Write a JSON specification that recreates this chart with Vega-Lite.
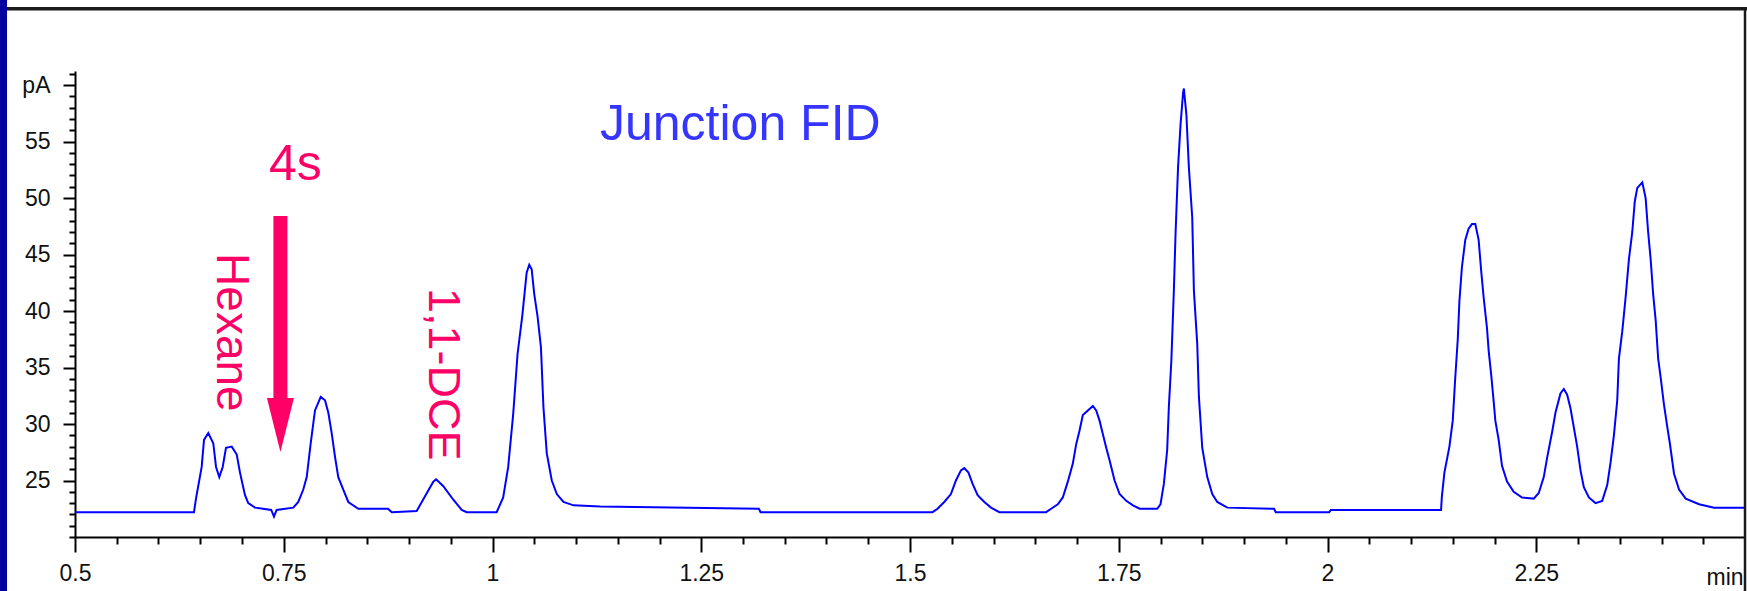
{
  "$schema": "https://vega.github.io/schema/vega-lite/v6.json",
  "width": 1670,
  "height": 466,
  "autosize": {"type": "none"},
  "padding": {"left": 75, "top": 71, "right": 2, "bottom": 54},
  "background": "white",
  "config": {"view": {"stroke": null}, "font": "Liberation Sans"},
  "datasets": {
    "trace": [
      {"t": 0.5, "v": 22.2}, {"t": 0.6425, "v": 22.2}, {"t": 0.6449, "v": 23.4}, {"t": 0.6517, "v": 26.2},
      {"t": 0.6545, "v": 28.6}, {"t": 0.6596, "v": 29.2}, {"t": 0.6656, "v": 28.3}, {"t": 0.6689, "v": 26.2},
      {"t": 0.6728, "v": 25.3}, {"t": 0.6769, "v": 26.2}, {"t": 0.6808, "v": 27.9}, {"t": 0.6877, "v": 28.0},
      {"t": 0.6937, "v": 27.3}, {"t": 0.6976, "v": 25.7}, {"t": 0.7036, "v": 23.7}, {"t": 0.7075, "v": 23.0},
      {"t": 0.7156, "v": 22.6}, {"t": 0.7251, "v": 22.5}, {"t": 0.735, "v": 22.4}, {"t": 0.7383, "v": 21.8},
      {"t": 0.7415, "v": 22.4}, {"t": 0.7614, "v": 22.6}, {"t": 0.7674, "v": 23.1}, {"t": 0.7734, "v": 24.2},
      {"t": 0.7775, "v": 25.3}, {"t": 0.7823, "v": 28.3}, {"t": 0.7874, "v": 31.2}, {"t": 0.7943, "v": 32.4},
      {"t": 0.7994, "v": 32.1}, {"t": 0.8034, "v": 31.0}, {"t": 0.8074, "v": 29.2}, {"t": 0.8114, "v": 27.1},
      {"t": 0.8153, "v": 25.3}, {"t": 0.8213, "v": 24.2}, {"t": 0.8273, "v": 23.1}, {"t": 0.8393, "v": 22.5},
      {"t": 0.8749, "v": 22.5}, {"t": 0.8793, "v": 22.2}, {"t": 0.9092, "v": 22.3}, {"t": 0.9192, "v": 23.6},
      {"t": 0.9291, "v": 24.9}, {"t": 0.9325, "v": 25.1}, {"t": 0.9411, "v": 24.5}, {"t": 0.9531, "v": 23.3},
      {"t": 0.9631, "v": 22.4}, {"t": 0.9691, "v": 22.2},
      {"t": 1.005, "v": 22.2}, {"t": 1.0128, "v": 23.5}, {"t": 1.0188, "v": 26.2}, {"t": 1.0248, "v": 30.9},
      {"t": 1.03, "v": 36.2}, {"t": 1.0357, "v": 39.6}, {"t": 1.0409, "v": 43.4}, {"t": 1.044, "v": 44.1},
      {"t": 1.0469, "v": 43.7}, {"t": 1.05, "v": 41.5}, {"t": 1.054, "v": 39.5}, {"t": 1.058, "v": 36.8},
      {"t": 1.061, "v": 31.5}, {"t": 1.065, "v": 27.4}, {"t": 1.071, "v": 25.0}, {"t": 1.077, "v": 23.8},
      {"t": 1.085, "v": 23.1}, {"t": 1.097, "v": 22.8}, {"t": 1.129, "v": 22.7}, {"t": 1.319, "v": 22.5},
      {"t": 1.321, "v": 22.2},
      {"t": 1.527, "v": 22.2}, {"t": 1.533, "v": 22.5}, {"t": 1.541, "v": 23.1}, {"t": 1.549, "v": 23.8},
      {"t": 1.555, "v": 25.0}, {"t": 1.561, "v": 25.9}, {"t": 1.565, "v": 26.1}, {"t": 1.57, "v": 25.7},
      {"t": 1.575, "v": 24.7}, {"t": 1.581, "v": 23.7}, {"t": 1.589, "v": 23.1}, {"t": 1.597, "v": 22.6},
      {"t": 1.607, "v": 22.2}, {"t": 1.663, "v": 22.2},
      {"t": 1.669, "v": 22.5}, {"t": 1.677, "v": 22.9}, {"t": 1.683, "v": 23.5}, {"t": 1.689, "v": 24.9},
      {"t": 1.695, "v": 26.5}, {"t": 1.699, "v": 28.2}, {"t": 1.703, "v": 29.4}, {"t": 1.707, "v": 30.8},
      {"t": 1.713, "v": 31.2}, {"t": 1.719, "v": 31.6}, {"t": 1.723, "v": 31.2}, {"t": 1.727, "v": 30.3},
      {"t": 1.731, "v": 29.1}, {"t": 1.735, "v": 27.9}, {"t": 1.739, "v": 26.8}, {"t": 1.745, "v": 25.0},
      {"t": 1.751, "v": 23.8}, {"t": 1.759, "v": 23.2}, {"t": 1.767, "v": 22.8}, {"t": 1.775, "v": 22.5},
      {"t": 1.796, "v": 22.5},
      {"t": 1.8, "v": 22.9}, {"t": 1.804, "v": 24.7}, {"t": 1.808, "v": 27.7}, {"t": 1.81, "v": 31.5},
      {"t": 1.813, "v": 35.6}, {"t": 1.816, "v": 41.8}, {"t": 1.818, "v": 46.8}, {"t": 1.821, "v": 52.7},
      {"t": 1.824, "v": 56.5}, {"t": 1.827, "v": 59.3}, {"t": 1.828, "v": 59.7}, {"t": 1.831, "v": 57.4},
      {"t": 1.834, "v": 52.7}, {"t": 1.838, "v": 48.3}, {"t": 1.84, "v": 41.8}, {"t": 1.844, "v": 37.1},
      {"t": 1.846, "v": 32.4}, {"t": 1.85, "v": 27.9}, {"t": 1.856, "v": 25.3}, {"t": 1.862, "v": 23.8},
      {"t": 1.868, "v": 23.1}, {"t": 1.88, "v": 22.6}, {"t": 1.936, "v": 22.5}, {"t": 1.938, "v": 22.2},
      {"t": 2.002, "v": 22.2}, {"t": 2.004, "v": 22.4}, {"t": 2.136, "v": 22.4},
      {"t": 2.137, "v": 23.6}, {"t": 2.14, "v": 25.7}, {"t": 2.146, "v": 28.0}, {"t": 2.15, "v": 30.3},
      {"t": 2.153, "v": 34.1}, {"t": 2.156, "v": 37.5}, {"t": 2.158, "v": 40.9}, {"t": 2.161, "v": 43.9},
      {"t": 2.165, "v": 46.3}, {"t": 2.169, "v": 47.3}, {"t": 2.173, "v": 47.7}, {"t": 2.177, "v": 47.7},
      {"t": 2.181, "v": 46.3}, {"t": 2.184, "v": 43.6}, {"t": 2.187, "v": 41.2}, {"t": 2.191, "v": 38.5},
      {"t": 2.193, "v": 36.5}, {"t": 2.196, "v": 34.4}, {"t": 2.199, "v": 32.0}, {"t": 2.201, "v": 30.3},
      {"t": 2.205, "v": 28.6}, {"t": 2.209, "v": 26.3}, {"t": 2.215, "v": 24.9}, {"t": 2.223, "v": 24.0},
      {"t": 2.233, "v": 23.5}, {"t": 2.247, "v": 23.4}, {"t": 2.253, "v": 23.9}, {"t": 2.259, "v": 25.3},
      {"t": 2.263, "v": 27.0}, {"t": 2.269, "v": 29.3}, {"t": 2.273, "v": 31.0}, {"t": 2.279, "v": 32.7},
      {"t": 2.283, "v": 33.1}, {"t": 2.287, "v": 32.6}, {"t": 2.291, "v": 31.4}, {"t": 2.295, "v": 29.7},
      {"t": 2.299, "v": 28.0}, {"t": 2.303, "v": 25.9}, {"t": 2.307, "v": 24.4}, {"t": 2.313, "v": 23.5},
      {"t": 2.321, "v": 23.0}, {"t": 2.329, "v": 23.2}, {"t": 2.335, "v": 24.6}, {"t": 2.339, "v": 26.6},
      {"t": 2.343, "v": 29.0}, {"t": 2.347, "v": 32.1}, {"t": 2.349, "v": 35.8}, {"t": 2.353, "v": 38.2},
      {"t": 2.357, "v": 41.2}, {"t": 2.361, "v": 44.6}, {"t": 2.365, "v": 47.0}, {"t": 2.368, "v": 49.7},
      {"t": 2.371, "v": 50.9}, {"t": 2.377, "v": 51.4}, {"t": 2.381, "v": 50.0}, {"t": 2.384, "v": 47.0},
      {"t": 2.387, "v": 44.6}, {"t": 2.39, "v": 41.5}, {"t": 2.393, "v": 39.2}, {"t": 2.396, "v": 35.8},
      {"t": 2.399, "v": 34.1}, {"t": 2.403, "v": 31.7}, {"t": 2.407, "v": 29.7}, {"t": 2.41, "v": 28.3},
      {"t": 2.415, "v": 25.6}, {"t": 2.421, "v": 24.2}, {"t": 2.429, "v": 23.4}, {"t": 2.445, "v": 22.9},
      {"t": 2.463, "v": 22.6}, {"t": 2.5, "v": 22.6}
    ]
  },
  "encoding": {
    "x": {
      "field": "t",
      "type": "quantitative",
      "scale": {"domain": [0.5, 2.5], "nice": false, "zero": false},
      "axis": {
        "title": null,
        "grid": false,
        "domainColor": "#000000",
        "domainWidth": 2,
        "tickColor": "#000000",
        "tickWidth": 2,
        "tickSize": {"condition": {"test": "round(datum.value * 20) % 5 == 0", "value": 15}, "value": 7},
        "values": [0.5, 0.55, 0.6, 0.65, 0.7, 0.75, 0.8, 0.85, 0.9, 0.95, 1, 1.05, 1.1, 1.15, 1.2, 1.25, 1.3, 1.35, 1.4, 1.45, 1.5, 1.55, 1.6, 1.65, 1.7, 1.75, 1.8, 1.85, 1.9, 1.95, 2, 2.05, 2.1, 2.15, 2.2, 2.25, 2.3, 2.35, 2.4, 2.45],
        "labelExpr": "round(datum.value * 20) % 5 == 0 && datum.value < 2.4 ? format(datum.value, '.2~f') : ''",
        "labelFont": "Liberation Sans",
        "labelFontSize": 23,
        "labelColor": "#111111",
        "labelPadding": 10,
        "labelOverlap": false,
        "labelFlush": false,
        "labelBound": false
      }
    },
    "y": {
      "field": "v",
      "type": "quantitative",
      "scale": {"domain": [20, 61.25], "nice": false, "zero": false},
      "axis": {
        "title": null,
        "grid": false,
        "domainColor": "#000000",
        "domainWidth": 2,
        "tickColor": "#000000",
        "tickWidth": 2,
        "tickSize": {"condition": {"test": "datum.value % 5 == 0 && datum.value >= 25", "value": 12}, "value": 6},
        "values": [20, 21, 22, 23, 24, 25, 26, 27, 28, 29, 30, 31, 32, 33, 34, 35, 36, 37, 38, 39, 40, 41, 42, 43, 44, 45, 46, 47, 48, 49, 50, 51, 52, 53, 54, 55, 56, 57, 58, 59, 60, 61],
        "labelExpr": "datum.value == 60 ? 'pA' : (datum.value % 5 == 0 && datum.value >= 25 ? datum.label : '')",
        "labelFont": "Liberation Sans",
        "labelFontSize": 23,
        "labelColor": "#111111",
        "labelPadding": 13,
        "labelOverlap": false,
        "labelBound": false
      }
    }
  },
  "layer": [
    {
      "data": {"name": "trace"},
      "mark": {"type": "line", "color": "#0000ff", "strokeWidth": 2}
    },
    {
      "data": {"values": [{"label": "Junction FID", "t": 1.1287, "v": 55.13}]},
      "mark": {"type": "text", "align": "left", "baseline": "alphabetic", "fontSize": 50, "font": "Liberation Sans", "color": "#3535ff"},
      "encoding": {"text": {"field": "label"}}
    },
    {
      "data": {"values": [{"label": "4s", "t": 0.764, "v": 51.6}]},
      "mark": {"type": "text", "align": "center", "baseline": "alphabetic", "fontSize": 50, "font": "Liberation Sans", "color": "#ff0066"},
      "encoding": {"text": {"field": "label"}}
    },
    {
      "data": {"values": [{"label": "Hexane", "t": 0.670, "v": 45.13}]},
      "mark": {"type": "text", "align": "left", "baseline": "alphabetic", "angle": 90, "fontSize": 46, "font": "Liberation Sans", "color": "#ff0066"},
      "encoding": {"text": {"field": "label"}}
    },
    {
      "data": {"values": [{"label": "1,1-DCE", "t": 0.924, "v": 42.04}]},
      "mark": {"type": "text", "align": "left", "baseline": "alphabetic", "angle": 90, "fontSize": 45, "font": "Liberation Sans", "color": "#ff0066"},
      "encoding": {"text": {"field": "label"}}
    },
    {
      "data": {"values": [{"t": 0.746, "v": 48.41, "v2": 32.0}]},
      "mark": {"type": "rule", "color": "#ff0066", "strokeWidth": 14, "strokeCap": "butt"},
      "encoding": {"y2": {"field": "v2"}}
    },
    {
      "data": {"values": [{"t": 0.746, "v": 29.91}]},
      "mark": {"type": "point", "shape": "M-0.5,-1L0.5,-1L0,1Z", "size": 2916, "filled": true, "opacity": 1, "color": "#ff0066"}
    },
    {
      "data": {"values": [{"label": "min", "t": 2.454, "v": 15.75}]},
      "mark": {"type": "text", "align": "left", "baseline": "alphabetic", "fontSize": 23, "font": "Liberation Sans", "color": "#111111"},
      "encoding": {"text": {"field": "label"}}
    },
    {
      "data": {"values": [{"t": 0.41, "t2": 2.6, "v": 66.75}]},
      "mark": {"type": "rule", "color": "#1a1a1a", "strokeWidth": 3.5},
      "encoding": {"x2": {"field": "t2"}}
    },
    {
      "data": {"values": [{"t": 2.5, "v": 14, "v2": 66.75}]},
      "mark": {"type": "rule", "color": "#1a1a1a", "strokeWidth": 2.5, "strokeCap": "butt"},
      "encoding": {"y2": {"field": "v2"}}
    },
    {
      "data": {"values": [{"t": 0.4144, "v": 14, "v2": 68}]},
      "mark": {"type": "rule", "color": "#00009c", "strokeWidth": 7, "strokeCap": "butt"},
      "encoding": {"y2": {"field": "v2"}}
    }
  ]
}
